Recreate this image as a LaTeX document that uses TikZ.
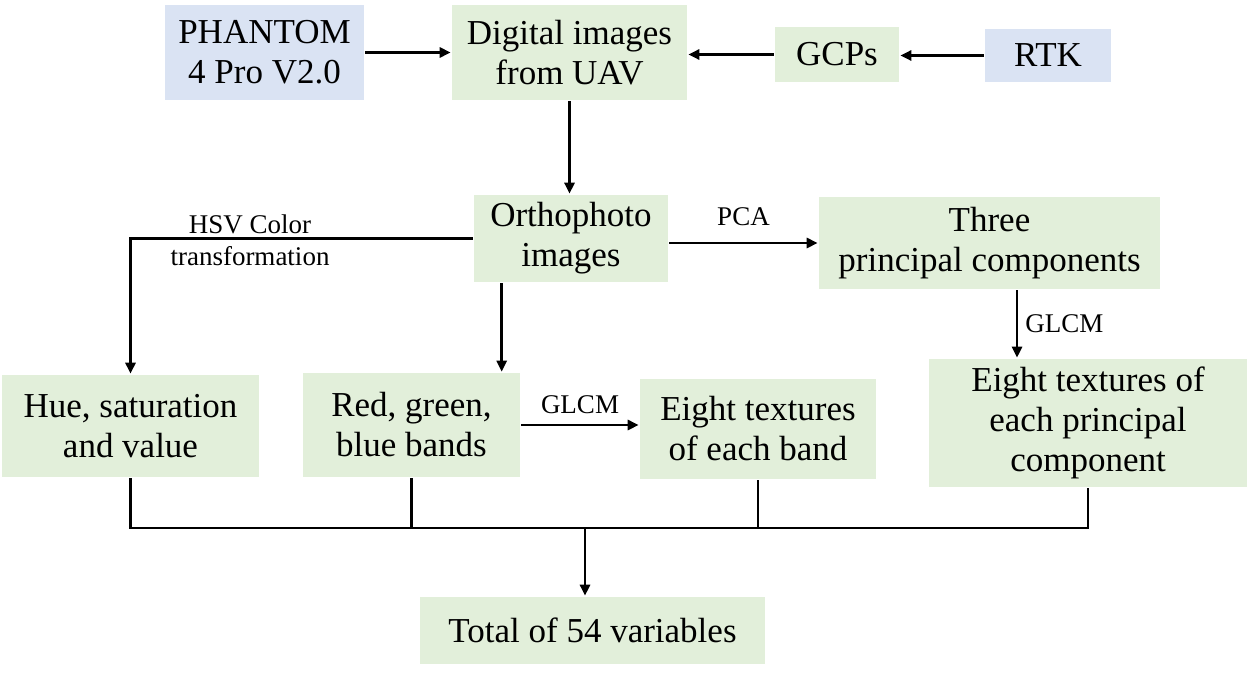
\documentclass[tikz,border=0pt]{standalone}
\usepackage{fontspec}
\setmainfont{LiberationSerif}[Extension=.ttf, UprightFont=*-Regular, BoldFont=*-Bold]
\usepackage{tikz}
\usetikzlibrary{arrows.meta,positioning}
\definecolor{boxgreen}{HTML}{E2EFDA}
\definecolor{boxblue}{HTML}{DAE3F3}

\begin{document}
\begin{tikzpicture}[
    x = 1pt, y = -1pt, % pixel units, y grows downward
    > = {Triangle[length=11pt,width=10pt]}, % arrow head style
    line width = 2.6pt % line style
    ]

    \tikzset{
    box/.style = {fill = boxgreen, inner sep = 0pt, align = center,
        font = \fontsize{35}{40}\selectfont},
    hw/.style = {box, fill = boxblue},
    lbl/.style = {font = \fontsize{27}{30}\selectfont, inner sep = 2pt}
    }
    \useasboundingbox (0,0) rectangle (1247,674);

    \node[hw, minimum width=199pt, minimum height=95pt] (phantom) at (264.5,52.5) {PHANTOM\\4 Pro V2.0};
    \node[box, minimum width=235pt, minimum height=95pt] (digital) at (569.5,52.5) {Digital images\\from UAV};
    \node[box, minimum width=124pt, minimum height=55pt] (gcp) at (837,54.5) {GCPs};
    \node[hw, minimum width=126pt, minimum height=53pt] (rtk) at (1048,55.5) {RTK};
    \node[box, minimum width=194pt, minimum height=87pt] (ortho) at (571,238.5) {Orthophoto\\images};
    \node[box, minimum width=341pt, minimum height=92pt] (three) at (989.5,243) {Three\\principal components};
    \node[box, minimum width=257pt, minimum height=102pt] (hue) at (130.5,426) {Hue, saturation\\and value};
    \node[box, minimum width=217pt, minimum height=104pt] (rgb) at (411.5,425) {Red, green,\\blue bands};
    \node[box, minimum width=236pt, minimum height=100pt] (band) at (758,429) {Eight textures\\of each band};
    \node[box, minimum width=318pt, minimum height=128pt] (pcbox) at (1088,423) {Eight textures of\\each principal\\component};
    \node[box, minimum width=345pt, minimum height=67pt] (total) at (592.5,630.5) {Total of 54 variables};

    \node[lbl, anchor=base] (hsvtop) at (250,233) {HSV Color};
    \node[lbl, anchor=base] (hsvbot) at (250,265) {transformation};

    \path[->] (phantom) edge (digital);
    \draw[->] (gcp.west) -- (gcp.west -| digital.east);
    \draw[->] (rtk.west) -- (rtk.west -| gcp.east);
    \draw[->] (digital.south) -- (digital.south |- ortho.north);
    \draw[->] (ortho.west) -| (hue.north);
    \draw[->] ([xshift=29pt]ortho.south west) -- ([xshift=29pt]ortho.south west |- rgb.north);
    \draw[->] (ortho.east |- three.west) -- node[lbl, above=14pt] (pca) {PCA} (three.west);
    \draw[->] ([xshift=27.5pt]three.south) -- node[lbl, right=5pt] (glcmpc) {GLCM} ([xshift=27.5pt]three.south |- pcbox.north);
    \draw[->] (rgb.east) -- node[lbl, above=8pt] (glcmrgb) {GLCM} (rgb.east -| band.west);

    % collecting line
    \coordinate (bus) at (585,528);
    \draw (hue.south) -- (hue.south |- bus) -- (pcbox.south |- bus) -- (pcbox.south);
    \foreach \n in {rgb,band}
        \draw (\n.south) -- (\n.south |- bus);
    \draw[->] (bus) -- (bus |- total.north);
\end{tikzpicture}
\end{document}
